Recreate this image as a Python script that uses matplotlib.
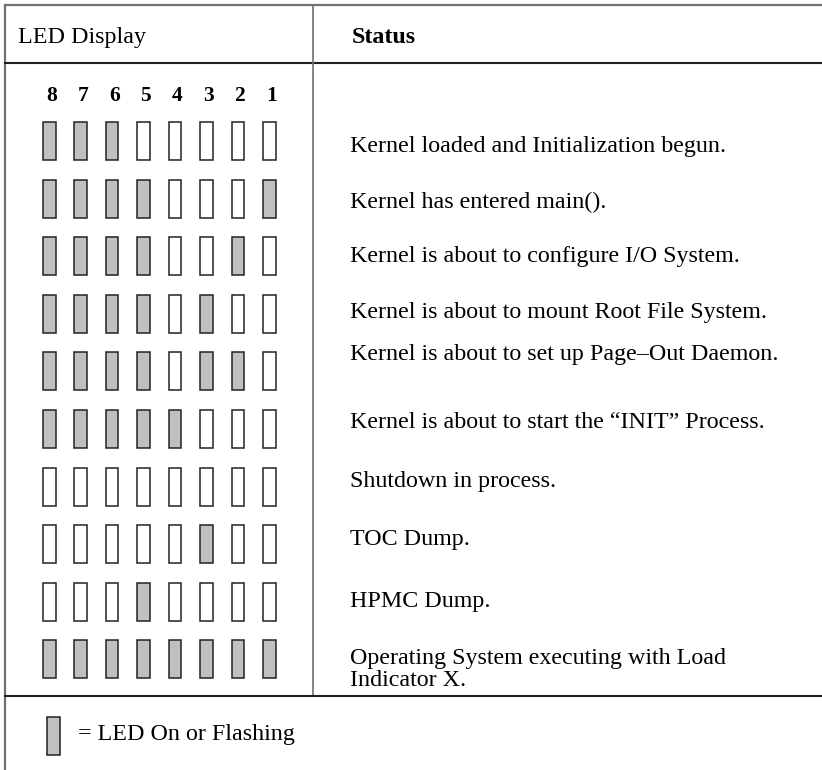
import matplotlib
matplotlib.use('Agg')
import matplotlib.pyplot as plt
from matplotlib.patches import Rectangle

# LED states, columns are LEDs 8..1 (1 = on or flashing)
led_numbers = ['8', '7', '6', '5', '4', '3', '2', '1']
led_states = [
    [1, 1, 1, 0, 0, 0, 0, 0],
    [1, 1, 1, 1, 0, 0, 0, 1],
    [1, 1, 1, 1, 0, 0, 1, 0],
    [1, 1, 1, 1, 0, 1, 0, 0],
    [1, 1, 1, 1, 0, 1, 1, 0],
    [1, 1, 1, 1, 1, 0, 0, 0],
    [0, 0, 0, 0, 0, 0, 0, 0],
    [0, 0, 0, 0, 0, 1, 0, 0],
    [0, 0, 0, 1, 0, 0, 0, 0],
    [1, 1, 1, 1, 1, 1, 1, 1],
]
status_text = [
    'Kernel loaded and Initialization begun.',
    'Kernel has entered main().',
    'Kernel is about to configure I/O System.',
    'Kernel is about to mount Root File System.',
    'Kernel is about to set up Page\u2013Out Daemon.',
    'Kernel is about to start the \u201cINIT\u201d Process.',
    'Shutdown in process.',
    'TOC Dump.',
    'HPMC Dump.',
    'Operating System executing with Load\nIndicator X.',
]

# layout (pixels)
W, H = 822, 770
col_x0, col_dx = 49.3, 31.43
row_y0, row_dy = 141, 57.6
led_w, led_h = 12.5, 38
text_base = [152, 208, 262, 318, 360, 428, 487, 545, 607, 664]
line_gap = 22
fs = 17.3
on_col = '#c0c0c0'
font = ['Liberation Serif', 'DejaVu Serif']

fig = plt.figure(figsize=(W / 100, H / 100), dpi=100)
ax = fig.add_axes([0, 0, 1, 1])
ax.set_xlim(0, W)
ax.set_ylim(H, 0)
ax.axis('off')

# table lines
ax.plot([5, W], [5, 5], color='#707070', lw=1.6)
ax.plot([5, 5], [5, H], color='#707070', lw=1.6)
ax.plot([5, W], [63, 63], color='#202020', lw=1.5)
ax.plot([313, 313], [5, 696], color='#707070', lw=1.2)
ax.plot([5, W], [696, 696], color='#202020', lw=1.5)

ax.text(18, 43, 'LED Display', family=font, fontsize=fs, va='baseline')
ax.text(352, 43, 'Status', family=font, fontsize=fs, fontweight='bold', va='baseline')

for j, n in enumerate(led_numbers):
    ax.text(col_x0 + j * col_dx + 2, 101, n, family=font, fontsize=15.5,
            fontweight='bold', ha='center', va='baseline')

for i, row in enumerate(led_states):
    yc = row_y0 + i * row_dy
    for j, s in enumerate(row):
        xc = col_x0 + j * col_dx
        ax.add_patch(Rectangle((xc - led_w / 2, yc - led_h / 2), led_w, led_h,
                               facecolor=on_col if s else 'white',
                               edgecolor='#222222', lw=1.1))
    for k, line in enumerate(status_text[i].split('\n')):
        ax.text(350, text_base[i] + k * line_gap, line, family=font,
                fontsize=fs, va='baseline')

# legend
ax.add_patch(Rectangle((47, 716.5), 12.5, 38.5, facecolor=on_col,
                       edgecolor='#222222', lw=1.1))
ax.text(78, 740, '= LED On or Flashing', family=font, fontsize=fs, va='baseline')

fig.savefig('out.png', dpi=100)
